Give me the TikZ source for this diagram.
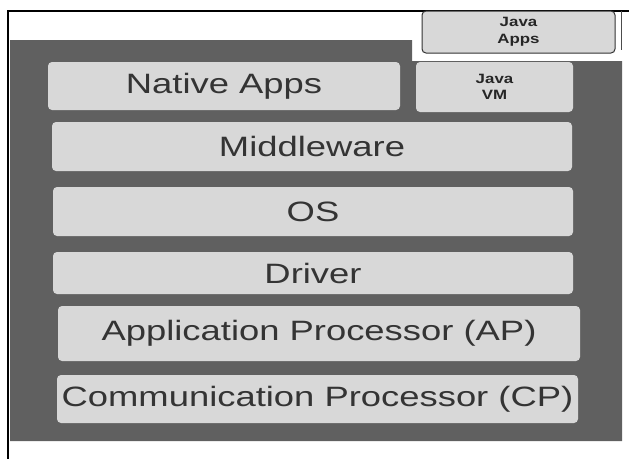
\documentclass[tikz,border=0pt]{standalone}
\usepackage{fontspec}
\newfontfamily\layerfont[FakeStretch=1.3]{Liberation Sans}
\newfontfamily\javafont[FakeStretch=1.25]{Liberation Sans Bold}
\definecolor{stackgray}{RGB}{96,96,96}
\definecolor{layergray}{RGB}{216,216,216}
\definecolor{labelgray}{RGB}{52,52,52}
\begin{document}
\begin{tikzpicture}[x=1pt, y=-1pt,
    layer/.style={fill=layergray, rounded corners=4pt, inner sep=0pt,
        text=labelgray, font=\layerfont\fontsize{28}{30}\selectfont},
    javabox/.style={layer, text=black!85, align=center,
        font=\javafont\fontsize{13.5}{16.5}\selectfont}]
    \useasboundingbox (0,0) rectangle (629,459);

    % Outer frame
    \draw[line width=1.2pt] (629,11) -- (8,11) -- (8,459);
    \draw[black!70, line width=0.8pt] (621,11) -- (621,50);

    % Dark background of the stack
    \fill[stackgray] (10,40) -- (412,40) -- (412,61) -- (622,61)
        -- (622,441) -- (10,441) -- cycle;

    % Layers (top to bottom)
    \node[javabox, draw=black!80, line width=1pt, minimum width=193pt, minimum height=42pt]
        (javaapps) at (518.5,32) {Java\\Apps};
    \node[layer, minimum width=352pt, minimum height=48pt] (native) at (224,86) {Native Apps};
    \node[javabox, minimum width=157pt, minimum height=50pt] (javavm) at (494.5,87) {Java\\VM};
    \node[layer, minimum width=520pt, minimum height=49pt] (middleware) at (312,146.5) {Middleware};
    \node[layer, minimum width=520pt, minimum height=49pt] (os) at (313,211.5) {OS};
    \node[layer, minimum width=520pt, minimum height=42pt] (driver) at (313,273) {Driver};
    \node[layer, minimum width=522pt, minimum height=55pt] (ap) at (319,333.5) {Application Processor (AP)};
    \node[layer, minimum width=521pt, minimum height=48pt] (cp) at (317.5,399) {Communication Processor (CP)};
\end{tikzpicture}
\end{document}
